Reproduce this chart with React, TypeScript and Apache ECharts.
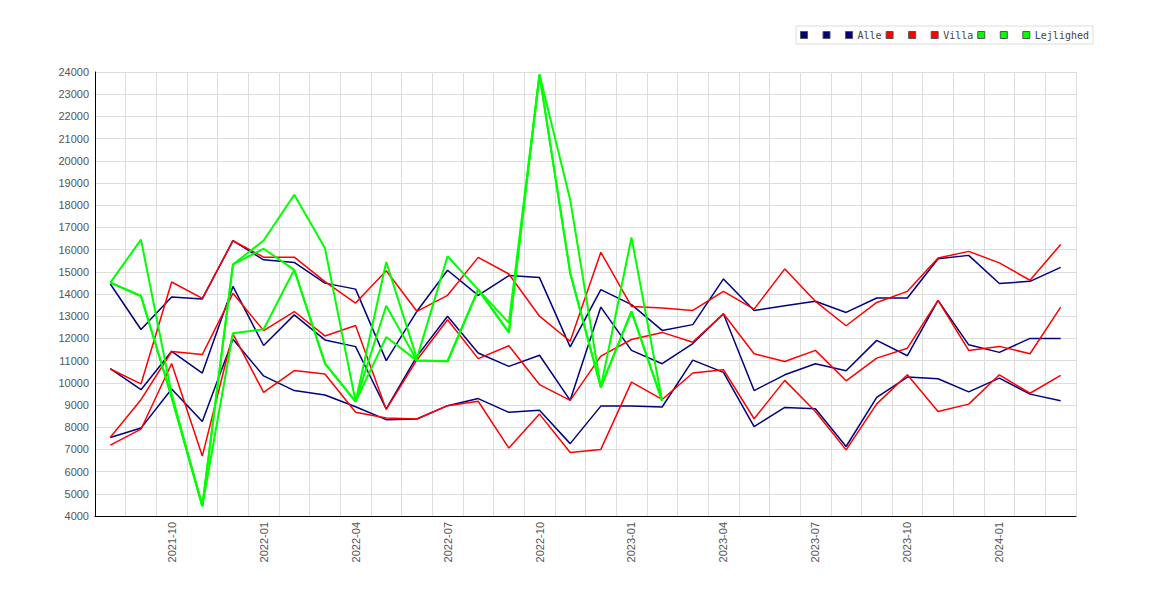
import React, { useEffect, useRef } from 'react';
import * as echarts from 'echarts';

const months = [
  '2021-08', '2021-09', '2021-10', '2021-11', '2021-12',
  '2022-01', '2022-02', '2022-03', '2022-04', '2022-05', '2022-06', '2022-07', '2022-08', '2022-09', '2022-10', '2022-11', '2022-12',
  '2023-01', '2023-02', '2023-03', '2023-04', '2023-05', '2023-06', '2023-07', '2023-08', '2023-09', '2023-10', '2023-11', '2023-12',
  '2024-01', '2024-02', '2024-03',
];

const alleHigh = [14450, 12400, 13860, 13780, 16400, 15540, 15420, 14490, 14220, 11000, 13220, 15070, 13940, 14830, 14740, 11620, 14200, 13520, 12360, 12620, 14680, 13260, 13470, 13670, 13170, 13820, 13820, 15590, 15740, 14470, 14570, 15200];
const alleMid = [10640, 9690, 11420, 10440, 14340, 11680, 13060, 11930, 11630, 8820, 11190, 13000, 11340, 10740, 11240, 9210, 13410, 11460, 10860, 11770, 13110, 9650, 10360, 10860, 10540, 11910, 11220, 13710, 11710, 11370, 12000, 12000];
const alleLow = [7540, 7960, 9720, 8260, 11960, 10310, 9650, 9450, 8920, 8340, 8370, 8970, 9290, 8670, 8760, 7260, 8950, 8950, 8910, 11020, 10470, 8030, 8890, 8830, 7130, 9340, 10260, 10180, 9590, 10210, 9490, 9190];

const villaHigh = [10620, 9950, 14540, 13800, 16400, 15660, 15660, 14560, 13590, 15050, 13220, 13940, 15650, 14900, 13000, 11870, 15880, 13440, 13370, 13260, 14120, 13320, 15130, 13670, 12570, 13620, 14120, 15620, 15920, 15400, 14620, 16230];
const villaMid = [7550, 9240, 11410, 11270, 14030, 12350, 13210, 12110, 12580, 8800, 11030, 12840, 11090, 11670, 9920, 9210, 11200, 11950, 12270, 11830, 13110, 11310, 10960, 11460, 10090, 11110, 11560, 13710, 11460, 11640, 11310, 13410];
const villaLow = [7190, 7910, 10870, 6700, 12200, 9570, 10550, 10400, 8670, 8410, 8370, 8970, 9170, 7060, 8590, 6860, 7000, 10030, 9250, 10440, 10590, 8380, 10110, 8710, 6980, 9050, 10360, 8710, 9040, 10360, 9530, 10330];

const lejlHigh = [14510, 16450, 9500, 4450, 15330, 16410, 18470, 16070, 9150, 15440, 11100, 15700, 14200, 12700, 23880, 18250, 9800, 16550, 9180, null, null, null, null, null, null, null, null, null, null, null, null, null];
const lejlMid = [14510, 13910, 9350, 4450, 15330, 16040, 15090, 10880, 9150, 13470, 11000, 10970, 14200, 12270, 23880, 14950, 9800, 13220, 9180, null, null, null, null, null, null, null, null, null, null, null, null, null];
const lejlLow = [14510, 13910, 9350, 4450, 12230, 12410, 15090, 10880, 9150, 12060, 11000, 10970, 14200, 12270, 23880, 14950, 9800, 13220, 9180, null, null, null, null, null, null, null, null, null, null, null, null, null];

const legendNames = ['Alle_1', 'Alle_2', 'Alle', 'Villa_1', 'Villa_2', 'Villa', 'Lejlighed_1', 'Lejlighed_2', 'Lejlighed'];

export default function App() {
  const ref = useRef<HTMLDivElement>(null);
  useEffect(() => {
    document.body.style.margin = '0';
    const chart = echarts.init(ref.current!, null, { renderer: 'svg' });
    const mk = (name: string, data: (number | null)[], color: string, width: number) => ({
      name,
      type: 'line',
      data,
      symbol: 'none',
      showSymbol: false,
      connectNulls: false,
      lineStyle: { color, width },
      itemStyle: { color },
      emphasis: { disabled: true },
    });
    const navy = '#000080';
    const red = '#ff0000';
    const green = '#00ff00';
    chart.setOption({
      animation: false,
      backgroundColor: '#ffffff',
      legend: {
        data: legendNames,
        left: 796,
        top: 26,
        orient: 'horizontal',
        icon: 'rect',
        itemWidth: 7,
        itemHeight: 7,
        itemGap: 4,
        padding: [4, 4],
        borderColor: '#dddddd',
        borderWidth: 1,
        backgroundColor: '#ffffff',
        selectedMode: false,
        itemStyle: { borderColor: '#555555', borderWidth: 1 },
        formatter: (name: string) => (name.indexOf('_') >= 0 ? ' ' : name),
        textStyle: { fontFamily: 'DejaVu Sans Mono', fontSize: 10, color: '#444444' },
      },
      grid: { left: 95, right: 94, top: 72, bottom: 84, containLabel: false },
      xAxis: {
        type: 'category',
        data: months,
        boundaryGap: true,
        axisLine: { show: true, lineStyle: { color: '#000000', width: 1 } },
        axisTick: { show: false },
        axisLabel: {
          interval: (index: number) => index % 3 === 2,
          rotate: 90,
          margin: 6,
          color: '#555555',
          fontFamily: 'Liberation Sans',
          fontSize: 11,
        },
        splitLine: { show: true, interval: 0, lineStyle: { color: '#dddddd', width: 1 } },
      },
      yAxis: {
        type: 'value',
        min: 4000,
        max: 24000,
        interval: 1000,
        axisLine: { show: true, lineStyle: { color: '#000000', width: 1 } },
        axisTick: { show: false },
        axisLabel: {
          margin: 6,
          color: '#555555',
          fontFamily: 'Liberation Sans',
          fontSize: 11,
          formatter: (v: number) => String(v),
        },
        splitLine: { show: true, lineStyle: { color: '#dddddd', width: 1 } },
      },
      series: [
        mk('Alle_1', alleLow, navy, 1.5),
        mk('Alle_2', alleMid, navy, 1.5),
        mk('Alle', alleHigh, navy, 1.5),
        mk('Villa_1', villaLow, red, 1.5),
        mk('Villa_2', villaMid, red, 1.5),
        mk('Villa', villaHigh, red, 1.5),
        mk('Lejlighed_1', lejlLow, green, 2),
        mk('Lejlighed_2', lejlMid, green, 2),
        mk('Lejlighed', lejlHigh, green, 2),
      ],
    });
    return () => chart.dispose();
  }, []);
  return <div ref={ref} style={{ position: 'absolute', left: 0, top: 0, width: 1170, height: 600 }} />;
}
